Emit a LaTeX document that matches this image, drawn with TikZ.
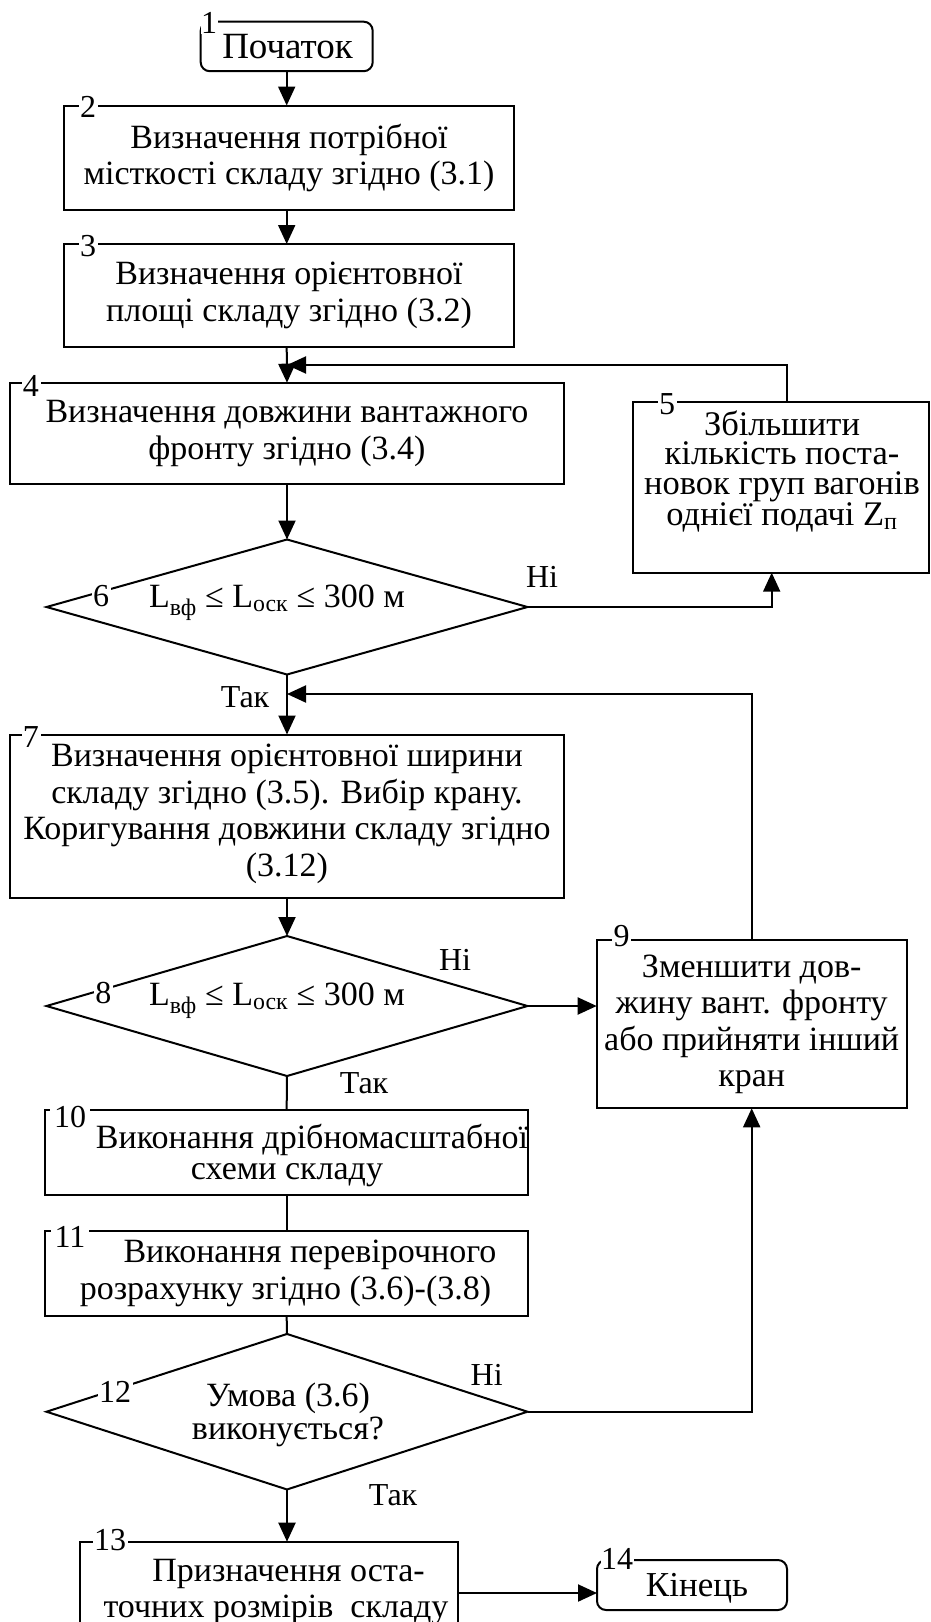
\documentclass[tikz,border=0pt]{standalone}
\usepackage{fontspec}
\setmainfont{Liberation Serif}
\usetikzlibrary{arrows.meta,calc,shapes.geometric}
\begin{document}
\begin{tikzpicture}[x=1pt,y=-1pt,line width=2pt,
  every node/.style={outer sep=0pt},
  box/.style={draw,rectangle,anchor=north west,inner sep=0pt,align=center,
    font=\fontsize{34}{36.5}\selectfont},
  term/.style={box,rounded corners=9pt},
  dia/.style={draw,diamond,inner sep=0pt},
  txt/.style={inner sep=0pt,align=center,font=\fontsize{34}{36.5}\selectfont},
  lbl/.style={fill=white,inner sep=1.5pt,font=\fontsize{32}{32}\selectfont},
  yn/.style={inner sep=0pt,font=\fontsize{32}{32}\selectfont},
  arr/.style={-{Triangle[length=19pt,width=17pt]}}]
\fill[white] (0,0) rectangle (931,1622);
\useasboundingbox (0,0) rectangle (931,1622);
\clip (0,0) rectangle (931,1622);

% nodes
\node[term,minimum width=172pt,minimum height=49.5pt] (n1) at (200.7,21.7) {};
\node[txt,font=\fontsize{37}{37}\selectfont] (t1) at (287.5,47) {Початок};
\node[lbl,inner sep=0.5pt] (l1) at (209,23) {1};

\node[box,minimum width=450pt,minimum height=104.5pt] (n2) at (64,105.5)
  {Визначення потрібної\\місткості складу згідно (3.1)};
\node[lbl] (l2) at (88,107) {2};

\node[box,minimum width=450pt,minimum height=102.5pt] (n3) at (64,244)
  {Визначення орієнтовної\\площі складу згідно (3.2)};
\node[lbl] (l3) at (88,246) {3};

\node[box,minimum width=554pt,minimum height=101.3pt] (n4) at (10,382.7)
  {Визначення довжини вантажного\\фронту згідно (3.4)};
\node[lbl] (l4) at (31,386) {4};

\node[box,minimum width=296pt,minimum height=171pt] (n5) at (633,401.7) {};
\node[txt,font=\fontsize{34.5}{29.7}\selectfont] (t5) at (782,471.5)
  {Збільшити\\кількість поста-\\новок груп вагонів\\однієї подачі Z\textsubscript{п}};
\node[lbl] (l5) at (667,404) {5};

\node[dia,minimum width=481pt,minimum height=135pt] (d6) at (287,607) {};
\node[txt] (t6) at (277,603) {L\textsubscript{вф} ≤ L\textsubscript{оск} ≤ 300 м};
\node[lbl] (l6) at (101,596) {6};
\node[yn] (y6n) at (542,577) {Ні};
\node[yn] (y6t) at (245,696.7) {Так};

\node[box,minimum width=554pt,minimum height=163.5pt] (n7) at (10,734.5) {};
\node[txt] (t7) at (287,814)
  {Визначення орієнтовної ширини\\складу згідно (3.5). Вибір крану.\\Коригування довжини складу згідно\\(3.12)};
\node[lbl] (l7) at (31,737) {7};

\node[dia,minimum width=481pt,minimum height=140pt] (d8) at (287,1006) {};
\node[txt] (t8) at (277,1001) {L\textsubscript{вф} ≤ L\textsubscript{оск} ≤ 300 м};
\node[lbl] (l8) at (103.4,993) {8};
\node[yn] (y8n) at (455,960) {Ні};
\node[yn] (y8t) at (364,1083) {Так};

\node[box,minimum width=310pt,minimum height=168.3pt] (n9) at (596.7,940)
  {Зменшити дов-\\жину вант. фронту\\або прийняти інший\\кран};
\node[lbl] (l9) at (621.7,936) {9};

\node[box,minimum width=483.3pt,minimum height=85pt] (n10) at (45,1110) {};
\node[txt,font=\fontsize{34}{31}\selectfont] (t10) at (312,1155)
  {Виконання дрібномасштабної\\схеми складу\hspace*{50pt}};
\node[lbl,inner xsep=4pt] (l10) at (70,1117) {10};

\node[box,minimum width=483.3pt,minimum height=85pt] (n11) at (45,1231) {};
\node[txt,font=\fontsize{34}{37}\selectfont] (t11) at (285.5,1273)
  {\hspace*{49pt}Виконання перевірочного\\розрахунку згідно (3.6)-(3.8)};
\node[lbl,inner xsep=4pt] (l11) at (70,1237) {11};

\node[dia,minimum width=481pt,minimum height=155.5pt] (d12) at (287,1411.7) {};
\node[txt,font=\fontsize{34}{33.3}\selectfont] (t12) at (288,1415) {Умова (3.6)\\виконується?};
\node[lbl] (l12) at (115,1391.7) {12};
\node[yn] (y12n) at (486.7,1375) {Ні};
\node[yn] (y12t) at (393,1495) {Так};

\node[box,minimum width=378.3pt,minimum height=110pt] (n13) at (80,1541.7) {};
\node[txt,font=\fontsize{34}{36}\selectfont] (t13) at (276,1592)
  {\hspace*{25pt}Призначення оста-\\точних розмірів\ \ складу};
\node[lbl] (l13) at (110,1540) {13};

\node[term,minimum width=190pt,minimum height=50pt] (n14) at (597,1560) {};
\node[txt,font=\fontsize{35}{35}\selectfont] (t14) at (697,1588) {Кінець};
\node[lbl,inner sep=0.5pt] (l14) at (617,1559) {14};

% helper coordinates
\coordinate (j1) at (287,365);
\coordinate (j2) at (287,694);
\coordinate (b5top) at (786.7,401.7);
\coordinate (b5bot) at (771.7,572.7);
\coordinate (b13r) at (458.3,1593);

% connectors
\draw[arr] (n1.south) -- (n1.south |- n2.north);
\draw[arr] (n1.south |- n2.south) -- (n1.south |- n3.north);
\draw[arr] (n1.south |- n3.south) -- (n4.north);
\draw[arr] (b5top) |- (j1);
\draw[arr] (n4.south) -- (d6.north);
\draw[arr] (d6.east) -| (b5bot);
\draw[arr] (d6.south) -- (n7.north);
\draw[arr] (n9.north) |- (j2);
\draw[arr] (n7.south) -- (d8.north);
\draw[arr] (d8.east) -- (d8.east -| n9.west);
\draw (d8.south) -- (n10.north);
\draw (n10.south) -- (n11.north);
\draw (n10.south |- n11.south) -- (d12.north);
\draw[arr] (d12.east) -| (n9.south);
\draw[arr] (d12.south) -- (d12.south |- n13.north);
\draw[arr] (b13r) -- (b13r -| n14.west);
\end{tikzpicture}
\end{document}
